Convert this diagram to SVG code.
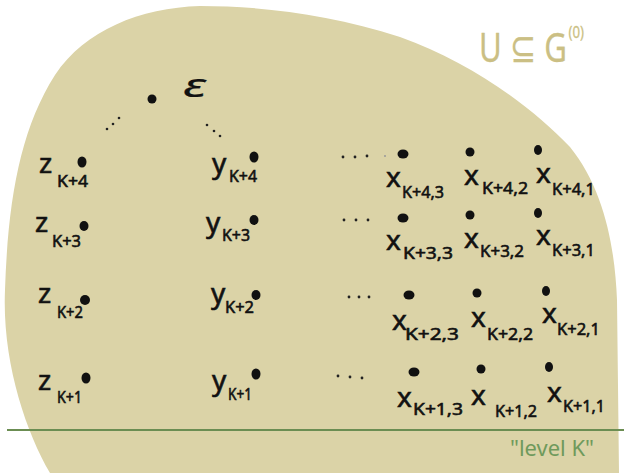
<svg xmlns="http://www.w3.org/2000/svg" width="624" height="473" viewBox="0 0 624 473">
<style>
.t{font-family:"Noto Sans","DejaVu Sans",sans-serif;fill:#111;stroke:#111;stroke-width:0.6px}
.v{font-size:28px}
.s{font-size:17px}
.d{fill:#111}
.e{fill:#222}
.u{fill:#cbbf84;stroke:#cbbf84;stroke-width:0.3px}
</style>
<rect width="624" height="473" fill="#fff"/>
<path id="region" d="M50,473 C25,430 2,360 5,290 C8,200 20,130 55,75 C85,30 140,8 200,6 C260,6 330,14 400,37 C470,62 530,105 570,147 C605,190 615,250 617,300 L619,473 Z" fill="#dbd3a7"/>
<text class="t u" transform="translate(479,62) scale(0.78,1)" x="0" y="0" font-size="40">U ⊆ G<tspan dx="2" dy="-24" font-size="17">(0)</tspan></text>
<line x1="7" y1="430" x2="624" y2="430" stroke="#6b8d52" stroke-width="2.2"/>
<text class="t" x="510" y="456" font-size="21" textLength="84" lengthAdjust="spacingAndGlyphs" style="fill:#6f9a5c;stroke:none">"level K"</text>

<g id="connectors">
<circle class="e" cx="107" cy="129" r="1.3"/><circle class="e" cx="113" cy="124" r="1.3"/><circle class="e" cx="119" cy="118" r="1.3"/>
<circle class="e" cx="207" cy="125" r="1.3"/><circle class="e" cx="214" cy="131" r="1.3"/><circle class="e" cx="220" cy="136" r="1.3"/>
<circle class="e" cx="343" cy="157" r="1.4"/><circle class="e" cx="355" cy="157" r="1.4"/><circle class="e" cx="367" cy="156" r="1.4"/><circle cx="385" cy="156" r="1" fill="#999"/>
<circle class="e" cx="344" cy="220" r="1.4"/><circle class="e" cx="356" cy="220" r="1.4"/><circle class="e" cx="368" cy="220" r="1.4"/>
<circle class="e" cx="349" cy="297" r="1.4"/><circle class="e" cx="359" cy="297" r="1.4"/><circle class="e" cx="369" cy="297" r="1.4"/>
<circle class="e" cx="338" cy="376" r="1.4"/><circle class="e" cx="350" cy="377" r="1.4"/><circle class="e" cx="362" cy="378" r="1.4"/>
</g>

<g id="eps"><ellipse class="d" cx="152" cy="99" rx="4.5" ry="4.5"/><text class="t" x="183" y="97" font-size="32" font-style="italic" textLength="23" lengthAdjust="spacingAndGlyphs" style="stroke-width:0.2px">ε</text></g>

<g id="z4"><ellipse class="d" cx="82" cy="162" rx="4.5" ry="5.5"/><text class="t v" x="39" y="173">z</text><text class="t s" x="57" y="187" textLength="31" lengthAdjust="spacingAndGlyphs">K+4</text></g>
<g id="z3"><ellipse class="d" cx="84" cy="226" rx="4.5" ry="5"/><text class="t v" x="35" y="232">z</text><text class="t s" x="52" y="247" textLength="29" lengthAdjust="spacingAndGlyphs">K+3</text></g>
<g id="z2"><ellipse class="d" cx="85" cy="300" rx="5" ry="5"/><text class="t v" x="38" y="303">z</text><text class="t s" x="57" y="318" textLength="26" lengthAdjust="spacingAndGlyphs">K+2</text></g>
<g id="z1"><ellipse class="d" cx="86" cy="378" rx="4.5" ry="5.5"/><text class="t v" x="38" y="390">z</text><text class="t s" x="57" y="403" textLength="25" lengthAdjust="spacingAndGlyphs">K+1</text></g>

<g id="y4"><ellipse class="d" cx="254" cy="157" rx="4.5" ry="5.5"/><text class="t v" x="212" y="173">y</text><text class="t s" x="229" y="182" textLength="28" lengthAdjust="spacingAndGlyphs">K+4</text></g>
<g id="y3"><ellipse class="d" cx="254" cy="220" rx="4.5" ry="5"/><text class="t v" x="206" y="232">y</text><text class="t s" x="222" y="241" textLength="28" lengthAdjust="spacingAndGlyphs">K+3</text></g>
<g id="y2"><ellipse class="d" cx="256" cy="295" rx="4.5" ry="5"/><text class="t v" x="211" y="303">y</text><text class="t s" x="225" y="313" textLength="29" lengthAdjust="spacingAndGlyphs">K+2</text></g>
<g id="y1"><ellipse class="d" cx="256" cy="374" rx="4.5" ry="5.5"/><text class="t v" x="212" y="390">y</text><text class="t s" x="228" y="400" textLength="24" lengthAdjust="spacingAndGlyphs">K+1</text></g>

<g id="x43"><ellipse class="d" cx="403" cy="154" rx="5.5" ry="4.5"/><text class="t v" x="386" y="187">x</text><text class="t s" x="402" y="198" textLength="42" lengthAdjust="spacingAndGlyphs">K+4,3</text></g>
<g id="x42"><ellipse class="d" cx="470" cy="152" rx="4.5" ry="4.5"/><text class="t v" x="464" y="185">x</text><text class="t s" x="482" y="194" textLength="46" lengthAdjust="spacingAndGlyphs">K+4,2</text></g>
<g id="x41"><ellipse class="d" cx="538" cy="150" rx="4" ry="5"/><text class="t v" x="536" y="183">x</text><text class="t s" x="552" y="195" textLength="43" lengthAdjust="spacingAndGlyphs">K+4,1</text></g>

<g id="x33"><ellipse class="d" cx="403" cy="218" rx="5.5" ry="4.5"/><text class="t v" x="386" y="250">x</text><text class="t s" x="403" y="259" textLength="50" lengthAdjust="spacingAndGlyphs">K+3,3</text></g>
<g id="x32"><ellipse class="d" cx="470" cy="215" rx="4.5" ry="4.5"/><text class="t v" x="464" y="248">x</text><text class="t s" x="480" y="257" textLength="44" lengthAdjust="spacingAndGlyphs">K+3,2</text></g>
<g id="x31"><ellipse class="d" cx="538" cy="213" rx="4" ry="5"/><text class="t v" x="536" y="245">x</text><text class="t s" x="552" y="256" textLength="43" lengthAdjust="spacingAndGlyphs">K+3,1</text></g>

<g id="x23"><ellipse class="d" cx="409" cy="295" rx="5.5" ry="4.5"/><text class="t v" x="392" y="330">x</text><text class="t s" x="405" y="340" textLength="54" lengthAdjust="spacingAndGlyphs">K+2,3</text></g>
<g id="x22"><ellipse class="d" cx="477" cy="293" rx="4.5" ry="4.5"/><text class="t v" x="471" y="327">x</text><text class="t s" x="487" y="340" textLength="46" lengthAdjust="spacingAndGlyphs">K+2,2</text></g>
<g id="x21"><ellipse class="d" cx="546" cy="291" rx="4" ry="5"/><text class="t v" x="542" y="323">x</text><text class="t s" x="557" y="335" textLength="43" lengthAdjust="spacingAndGlyphs">K+2,1</text></g>

<g id="x13"><ellipse class="d" cx="414" cy="372" rx="5.5" ry="4.5"/><text class="t v" x="397" y="407">x</text><text class="t s" x="413" y="415" textLength="50" lengthAdjust="spacingAndGlyphs">K+1,3</text></g>
<g id="x12"><ellipse class="d" cx="481" cy="369" rx="4.5" ry="4.5"/><text class="t v" x="471" y="405">x</text><text class="t s" x="495" y="417" textLength="42" lengthAdjust="spacingAndGlyphs">K+1,2</text></g>
<g id="x11"><ellipse class="d" cx="549" cy="367" rx="4" ry="5"/><text class="t v" x="547" y="402">x</text><text class="t s" x="563" y="412" textLength="42" lengthAdjust="spacingAndGlyphs">K+1,1</text></g>
</svg>
